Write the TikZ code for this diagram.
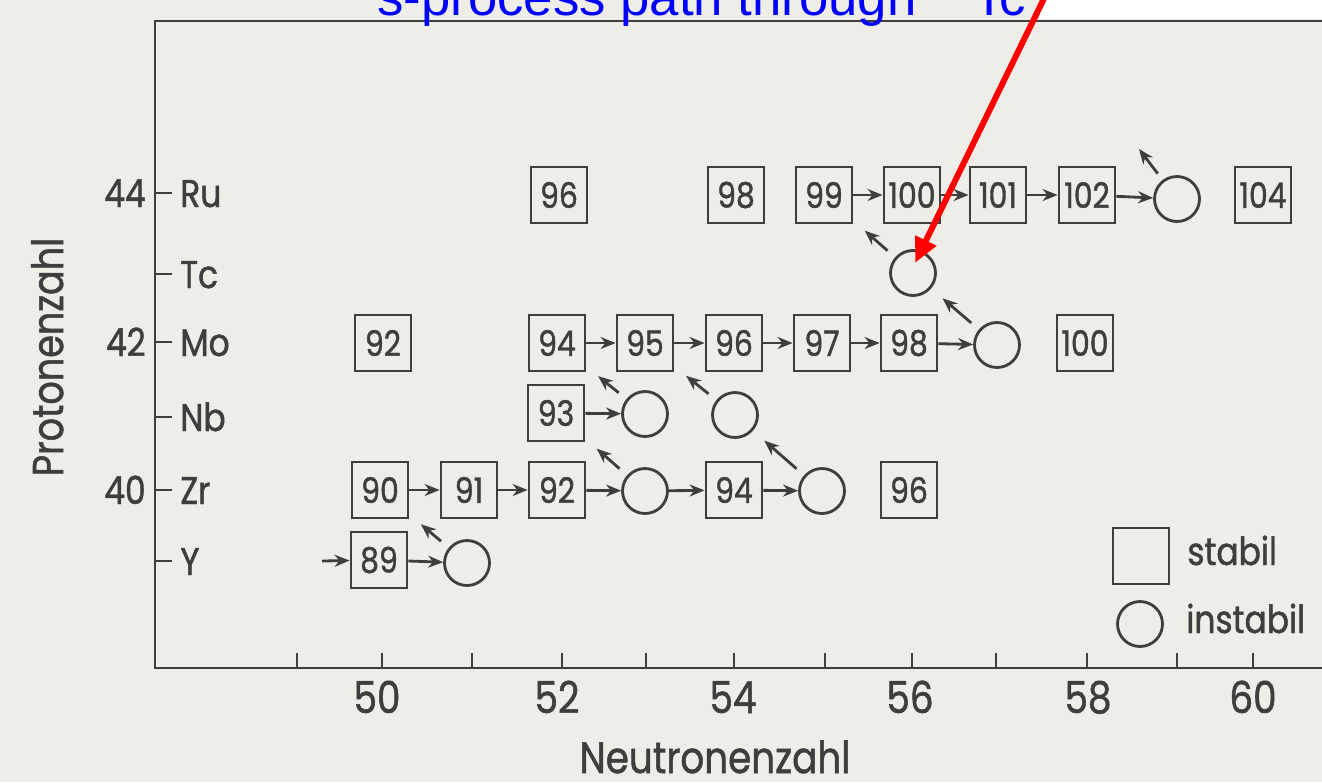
\documentclass[tikz,border=0pt]{standalone}
\usepackage{fontspec}
\setmainfont{Poppins}[FakeStretch=0.85, FakeBold=1.2]
\newfontfamily\titelfont{Liberation Sans}
\usepackage{tikz}
\usetikzlibrary{arrows.meta}
\definecolor{papel}{RGB}{239,237,231}
\definecolor{tinta}{RGB}{62,62,62}

\tikzset{
  stabil/.style={draw=tinta, line width=1.6pt, minimum size=1.12cm, inner sep=0pt,
    text=tinta, font=\fontsize{20}{20}\selectfont},
  instabil/.style={draw=tinta, circle, line width=1.6pt, minimum size=0.9cm, inner sep=0pt},
  fluxo/.style={draw=tinta, line width=1.6pt, -{Stealth[length=0.3cm, width=0.24cm]}},
  decai/.style={fluxo, shorten <=0.2cm, shorten >=0.3cm},
  rotulo/.style={text=tinta, inner sep=0pt, text depth=0pt},
  eixo/.style={draw=tinta, line width=1.6pt},
}

\begin{document}
\begin{tikzpicture}[x=0.02cm, y=-0.02cm]
  % Fundo e margens
  \useasboundingbox (0,0) rectangle (1322,782);
  \fill[papel] (0,0) rectangle (1322,782);
  \fill[white] (1040,0) rectangle (1322,19);

  % Eixos
  \draw[eixo] (1322,21) -- (155,21) -- (155,668) -- (1322,668);
  \foreach \x in {297,382,472,562,646,734,825,912,996,1087,1177,1253}
    \draw[eixo] (\x,668) -- (\x,653);
  \foreach \x/\n in {377/50, 557/52, 733/54, 910/56, 1088/58, 1253/60}
    \node[rotulo, anchor=base, font=\fontsize{25}{25}\selectfont] (n\n) at (\x,713) {\n};
  \foreach \y/\el in {193/Ru, 274/Tc, 342/Mo, 417/Nb, 490/Zr, 561/Y} {
    \draw[eixo] (155,\y) -- (172,\y);
    \node[rotulo, anchor=base west, font=\fontsize{22}{22}\selectfont] (el\el) at (180,{\y+14}) {\el};
  }
  \foreach \y/\z in {193/44, 342/42, 490/40}
    \node[rotulo, anchor=base east, font=\fontsize{22}{22}\selectfont] (z\z) at (146,{\y+14}) {\z};
  \node[rotulo, anchor=base, rotate=90, font=\fontsize{24.5}{24.5}\selectfont] (protonen) at (63,357) {Protonenzahl};
  \node[rotulo, anchor=base, font=\fontsize{25}{25}\selectfont] (neutronen) at (715,773) {Neutronenzahl};

  % Ru
  \foreach \x/\a in {559/96, 736/98, 824/99, 912/100, 998/101, 1087/102, 1263/104}
    \node[stabil] (ru\a) at (\x,195) {\a};
  \node[instabil] (ru103) at (1177,199) {};
  \coordinate (rh103) at (1139,149);

  % Tc
  \node[instabil] (tc99) at (913,273) {};

  % Mo
  \foreach \x/\a in {383/92, 557/94, 645/95, 734/96, 822/97, 909/98, 1085/100}
    \node[stabil] (mo\a) at (\x,343) {\a};
  \node[instabil] (mo99) at (997,345) {};

  % Nb
  \node[stabil] (nb93) at (556,413) {93};
  \node[instabil] (nb94) at (645,414) {};
  \node[instabil] (nb95) at (735,415) {};

  % Zr
  \foreach \x/\a in {380/90, 469/91, 557/92, 734/94, 909/96}
    \node[stabil] (zr\a) at (\x,490) {\a};
  \node[instabil] (zr93) at (645,491) {};
  \node[instabil] (zr95) at (822,491) {};

  % Y
  \coordinate (yin) at (322,561);
  \node[stabil] (y89) at (379,560) {89};
  \node[instabil] (y90) at (467,563) {};

  % Einfang (n)
  \foreach \a/\b in {ru99/ru100, ru100/ru101, ru101/ru102, ru102/ru103,
      mo94/mo95, mo95/mo96, mo96/mo97, mo97/mo98, mo98/mo99, nb93/nb94,
      zr90/zr91, zr91/zr92, zr92/zr93, zr93/zr94, zr94/zr95, yin/y89, y89/y90}
    \draw[fluxo] (\a) -- (\b);

  % Zerfall (beta)
  \foreach \a/\b in {tc99/ru99, mo99/tc99, nb94/mo94, nb95/mo95, zr93/nb93, zr95/nb95, y90/zr90}
    \draw[decai] (\a) -- (\b);
  \draw[fluxo, shorten <=0.16cm] (ru103) -- (rh103);

  % Legende
  \node[stabil] (legstab) at (1141,556) {};
  \node[rotulo, anchor=base west, font=\fontsize{22}{22}\selectfont] (legstabtxt) at (1187,565) {stabil};
  \node[instabil] (leginst) at (1140,624) {};
  \node[rotulo, anchor=base west, font=\fontsize{22}{22}\selectfont] (leginsttxt) at (1186,633) {instabil};

  % Titel und Pfeil
  \node[anchor=base west, inner sep=0pt, text=blue, font=\titelfont\fontsize{30}{30}\selectfont]
    (titel) at (377,15) {s-process path through \textsuperscript{99}Tc};
  \coordinate (pfeilstart) at (1053,-20);
  \coordinate (tcspitze) at (915,263);
  \draw[red, line width=3.4pt, -{Triangle[length=0.5cm, width=0.44cm]}] (pfeilstart) -- (tcspitze);
\end{tikzpicture}
\end{document}
